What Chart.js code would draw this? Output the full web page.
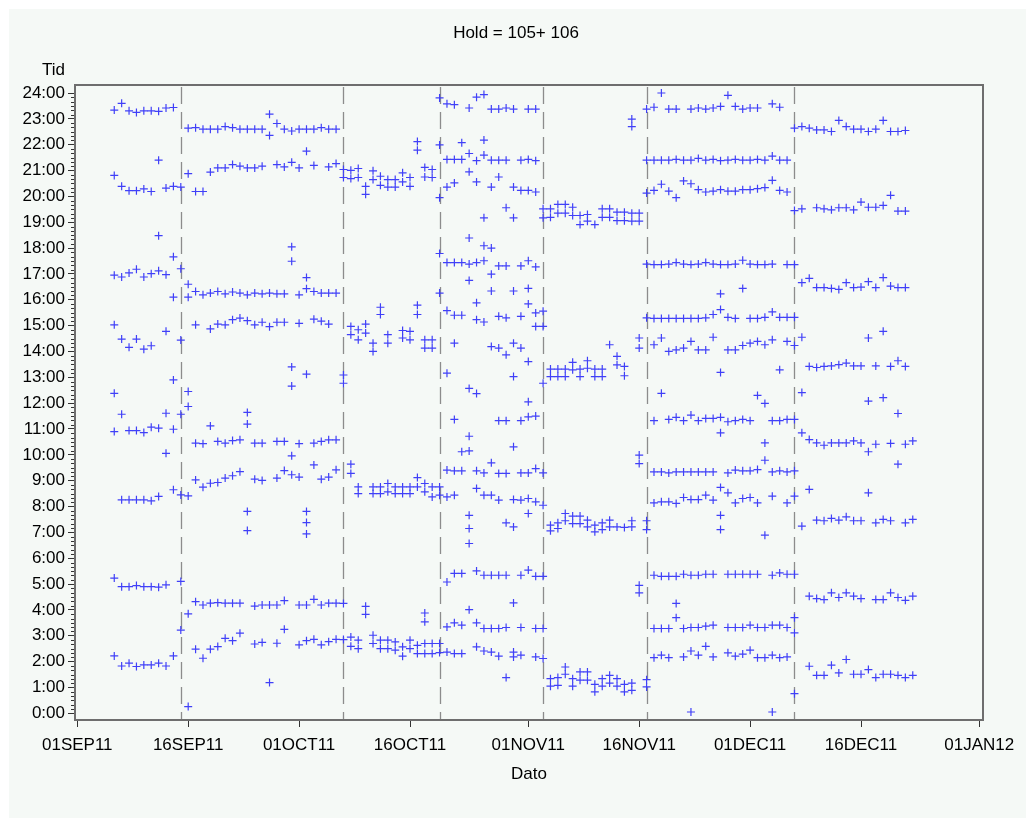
<!DOCTYPE html>
<html>
<head>
<meta charset="utf-8">
<script src="https://cdn.jsdelivr.net/npm/chart.js@4.4.1/dist/chart.umd.min.js"></script>
<style>
  html, body { margin: 0; padding: 0; background: #fff; }
</style>
</head>
<body>
<canvas id="chart" width="1026" height="818"></canvas>
<script>
// tick labels along the date axis
const xTickLabels = ["01SEP11", "16SEP11", "01OCT11", "16OCT11", "01NOV11", "16NOV11", "01DEC11", "16DEC11", "01JAN12"];
const hourTicks = [0, 1, 2, 3, 4, 5, 6, 7, 8, 9, 10, 11, 12, 13, 14, 15, 16, 17, 18, 19, 20, 21, 22, 23, 24];
// dashed reference lines
const refDates = ["15SEP11", "07OCT11", "20OCT11", "03NOV11", "17NOV11", "07DEC11"];

// first day of each block, one row of times (hours) per consecutive day
const periodStarts = ["06SEP11", "16SEP11", "07OCT11", "20OCT11", "03NOV11", "18NOV11", "07DEC11"];

const sep06 = [
  [23.34, 20.81, 16.95, 15.03, 12.38, 10.9, 5.23, 2.22],
  [23.6, 20.39, 16.88, 14.48, 11.57, 8.26, 4.9, 1.83],
  [23.31, 20.22, 17.04, 14.16, 10.94, 8.26, 4.9, 1.94],
  [23.25, 20.22, 17.18, 14.48, 10.94, 8.26, 4.94, 1.81],
  [23.31, 20.29, 16.88, 14.09, 10.86, 8.26, 4.9, 1.87],
  [23.31, 20.19, 17.01, 14.22, 11.07, 8.22, 4.9, 1.87],
  [23.29, 21.4, 18.48, 17.12, 11.03, 8.39, 4.88, 1.94],
  [23.42, 20.32, 16.97, 14.78, 11.61, 10.06, 4.97, 1.83],
  [23.44, 20.39, 17.66, 16.1, 12.9, 10.99, 8.65, 2.22],
  [20.36, 17.2, 14.44, 11.57, 8.45, 5.1, 3.22]
];

const sep16 = [
  [22.64, 20.88, 16.6, 16.1, 12.45, 11.87, 8.41, 3.85, 0.26],
  [22.66, 20.19, 16.32, 15.03, 10.45, 9.03, 4.32, 2.48],
  [22.6, 20.19, 16.19, 10.43, 8.75, 4.19, 2.13],
  [22.6, 20.94, 16.26, 14.87, 11.12, 8.9, 4.26, 2.48],
  [22.6, 21.1, 16.32, 15.06, 10.52, 8.93, 4.28, 2.58],
  [22.7, 21.1, 16.23, 15.03, 10.45, 9.1, 4.26, 2.9],
  [22.66, 21.23, 16.3, 15.23, 10.55, 9.19, 4.26, 2.81],
  [22.6, 21.17, 16.26, 15.29, 10.58, 9.35, 4.26, 3.1],
  [22.6, 21.1, 16.19, 15.19, 11.64, 11.19, 7.81, 7.07],
  [22.6, 21.1, 16.26, 15.03, 10.45, 9.06, 4.15, 2.68],
  [22.6, 21.17, 16.23, 15.13, 10.45, 9.01, 4.19, 2.74],
  [23.18, 22.36, 16.26, 14.96, 4.19, 1.19],
  [22.82, 21.23, 16.23, 15.13, 10.52, 9.1, 4.19, 2.71],
  [22.6, 21.14, 16.23, 15.13, 10.52, 9.39, 4.36, 3.25],
  [22.53, 21.32, 18.05, 17.49, 13.4, 12.66, 9.96, 9.23],
  [22.6, 21.1, 16.19, 15.09, 10.43, 9.14, 4.19, 2.65],
  [22.6, 21.75, 16.86, 16.43, 13.12, 7.81, 7.38, 6.94, 4.19, 2.81],
  [22.6, 21.2, 16.32, 15.25, 10.45, 9.61, 4.41, 2.86],
  [22.66, 16.26, 15.17, 10.52, 9.06, 4.19, 2.65],
  [22.6, 21.14, 16.26, 15.06, 10.58, 9.14, 4.26, 2.77],
  [22.6, 21.27, 16.26, 10.58, 9.42, 4.26, 2.86]
];

const oct07 = [
  [21.04, 20.73, 13.09, 12.77, 4.25, 2.85],
  [21.01, 20.69, 14.97, 14.65, 9.64, 9.28, 2.95, 2.59],
  [21.08, 20.73, 14.84, 14.45, 8.76, 8.5, 2.83, 2.5],
  [20.39, 20.08, 15.06, 14.71, 4.14, 3.83],
  [20.99, 20.65, 14.32, 14.0, 8.76, 8.5, 3.02, 2.7],
  [20.78, 20.43, 15.71, 15.43, 8.76, 8.5, 2.83, 2.5],
  [20.65, 20.36, 14.65, 14.32, 8.89, 8.57, 2.83, 2.5],
  [20.65, 20.36, 8.76, 8.5, 2.76, 2.44],
  [20.91, 20.56, 14.81, 14.52, 8.76, 8.5, 2.57, 2.21],
  [20.73, 20.39, 14.78, 14.45, 8.76, 8.5, 2.83, 2.5],
  [22.12, 21.79, 15.79, 15.43, 9.12, 8.76, 2.63, 2.31],
  [21.12, 20.75, 14.45, 14.13, 8.89, 8.57, 3.88, 3.54, 2.7, 2.31],
  [21.04, 20.73, 14.45, 14.13, 8.76, 8.37, 2.7, 2.31]
];

const oct20 = [
  [23.81, 21.99, 19.95, 17.79, 16.26, 8.76, 8.44, 2.7, 2.35],
  [23.58, 21.43, 20.36, 17.44, 15.58, 13.16, 9.41, 8.37, 5.08, 3.34, 2.37],
  [23.55, 21.43, 20.52, 17.44, 15.4, 14.32, 11.37, 9.38, 8.44, 5.41, 3.5, 2.31],
  [22.08, 21.43, 17.44, 15.4, 10.12, 9.38, 5.41, 3.41, 2.31],
  [23.42, 21.66, 20.95, 18.39, 17.38, 16.75, 12.57, 10.72, 10.15, 7.66, 7.15, 6.57, 4.01],
  [23.84, 21.38, 20.56, 17.44, 15.88, 15.23, 12.37, 9.38, 8.7, 5.51, 3.5, 2.57],
  [23.94, 22.18, 21.6, 19.17, 18.09, 17.51, 15.14, 9.3, 8.44, 5.34, 3.28, 2.41],
  [23.38, 21.4, 20.36, 18.0, 16.99, 16.34, 14.19, 9.69, 8.44, 5.34, 3.28, 2.37],
  [23.38, 21.4, 20.75, 17.31, 15.36, 14.13, 11.32, 9.28, 8.25, 5.34, 3.28, 2.21],
  [23.42, 21.4, 19.56, 17.31, 15.3, 13.87, 11.32, 9.28, 7.37, 5.34, 3.32, 1.38],
  [23.38, 20.36, 19.17, 16.34, 14.32, 13.03, 10.31, 8.27, 7.21, 4.27, 2.37, 2.18],
  [21.4, 20.23, 17.31, 15.36, 14.13, 11.32, 9.3, 8.25, 5.34, 3.32, 2.25],
  [23.38, 21.43, 20.23, 17.51, 16.44, 15.84, 13.61, 12.05, 11.47, 9.3, 8.31, 7.73, 5.54],
  [23.38, 21.38, 20.17, 17.27, 15.49, 14.97, 11.5, 9.47, 8.18, 5.3, 3.28, 2.18]
];

const nov03 = [
  [19.52, 19.17, 15.56, 14.97, 12.77, 9.3, 8.05, 5.3, 3.28, 2.12],
  [19.52, 19.19, 13.32, 13.03, 7.28, 7.06, 1.34, 1.05],
  [19.69, 19.35, 13.32, 13.03, 7.37, 7.15, 1.38, 1.08],
  [19.69, 19.35, 13.32, 13.03, 7.73, 7.45, 1.79, 1.51],
  [19.58, 19.26, 13.58, 13.29, 7.63, 7.34, 1.34, 1.05],
  [19.26, 18.91, 13.32, 13.03, 7.63, 7.34, 1.6, 1.28],
  [19.3, 19.04, 13.64, 13.35, 7.47, 7.21, 1.6, 1.28],
  [18.91, 13.32, 13.03, 7.28, 7.02, 1.12, 0.83],
  [19.52, 19.19, 13.32, 13.03, 7.37, 7.11, 1.34, 1.05],
  [19.52, 19.19, 14.26, 7.47, 7.21, 1.47, 1.17],
  [19.39, 19.06, 13.81, 13.48, 7.21, 1.34, 1.05],
  [19.39, 19.06, 13.42, 13.06, 7.19, 1.12, 0.83],
  [22.99, 22.7, 19.35, 19.04, 7.45, 7.21, 1.17, 0.89],
  [19.35, 19.04, 14.52, 14.13, 9.99, 9.66, 4.95, 4.66],
  [23.38, 21.4, 20.13, 17.38, 15.3, 7.45, 7.11, 1.3, 1.02]
];

const nov18 = [
  [23.45, 21.4, 20.23, 17.36, 15.28, 14.26, 11.32, 9.34, 8.14, 5.34, 3.28, 2.15],
  [24.0, 21.4, 20.47, 17.36, 15.28, 14.52, 12.38, 9.34, 8.18, 5.3, 3.28, 2.25],
  [23.38, 21.4, 20.2, 17.38, 15.28, 14.0, 11.37, 9.3, 8.18, 5.3, 3.28, 2.15],
  [23.38, 21.43, 19.95, 17.44, 15.28, 14.06, 11.45, 9.34, 8.12, 5.3, 4.25, 3.7],
  [21.4, 20.6, 17.38, 15.28, 14.13, 11.32, 9.34, 8.35, 5.38, 3.28, 2.18],
  [23.38, 21.4, 20.49, 17.36, 15.28, 14.39, 11.54, 9.34, 8.27, 5.34, 3.32, 2.41, 0.05],
  [23.42, 21.47, 20.26, 17.38, 15.28, 14.06, 11.32, 9.34, 8.27, 5.34, 3.32, 2.25],
  [23.38, 21.4, 20.17, 17.44, 15.3, 14.06, 11.41, 9.34, 8.44, 5.38, 3.37, 2.59],
  [23.42, 21.43, 20.2, 17.38, 15.43, 14.55, 11.41, 9.34, 8.25, 5.38, 3.41, 2.18],
  [23.48, 21.38, 20.26, 17.36, 16.23, 15.62, 13.19, 11.45, 10.85, 8.74, 7.66, 7.11],
  [23.91, 21.4, 20.2, 17.36, 15.32, 14.06, 11.28, 9.3, 8.53, 5.38, 3.32, 2.34],
  [23.48, 21.43, 20.2, 17.38, 15.28, 14.06, 11.32, 9.41, 8.14, 5.38, 3.32, 2.21],
  [23.38, 21.4, 20.26, 17.53, 16.44, 14.23, 11.37, 9.38, 8.31, 5.38, 3.32, 2.29],
  [23.42, 21.4, 20.26, 17.38, 15.28, 14.32, 11.32, 9.38, 8.35, 5.38, 3.41, 2.44],
  [23.42, 21.43, 20.3, 17.36, 15.28, 14.39, 12.3, 9.43, 8.14, 5.38, 3.32, 2.15],
  [21.4, 20.34, 17.36, 15.32, 14.26, 11.99, 10.46, 9.79, 6.89, 3.32, 2.15],
  [23.58, 21.56, 20.62, 17.38, 15.53, 14.45, 11.32, 9.34, 8.4, 5.34, 3.41, 2.25, 0.05],
  [23.45, 21.4, 20.23, 15.32, 13.29, 11.32, 9.38, 5.43, 3.41, 2.15],
  [21.4, 20.17, 17.36, 15.32, 14.39, 11.37, 9.34, 8.14, 5.38, 3.32, 2.18]
];

const dec07 = [
  [22.64, 19.45, 17.36, 15.32, 14.23, 11.37, 9.38, 8.4, 5.38, 3.7, 3.11, 0.76],
  [22.7, 19.52, 16.66, 14.55, 12.41, 10.85, 7.24],
  [22.64, 16.83, 13.42, 10.59, 8.66, 4.53, 1.82],
  [22.57, 19.56, 16.47, 13.38, 10.46, 7.47, 4.44, 1.47],
  [22.57, 19.52, 16.47, 13.42, 10.37, 7.45, 4.4, 1.47],
  [22.51, 19.48, 16.44, 13.44, 10.46, 7.54, 4.66, 1.86],
  [22.94, 19.56, 16.4, 13.49, 10.46, 7.47, 4.48, 1.56],
  [22.7, 19.56, 16.66, 13.55, 10.46, 7.6, 4.66, 2.08],
  [22.6, 19.48, 16.47, 13.44, 10.54, 7.45, 4.53, 1.51],
  [22.6, 19.78, 16.49, 13.44, 10.46, 7.45, 4.44, 1.51],
  [22.51, 19.58, 16.7, 14.52, 12.08, 10.12, 8.53, 1.69],
  [22.6, 19.58, 16.47, 13.44, 10.41, 7.37, 4.4, 1.38],
  [22.94, 19.65, 16.86, 14.78, 12.21, 7.5, 4.4, 1.51],
  [22.51, 20.04, 16.53, 13.42, 10.44, 7.45, 4.66, 1.51],
  [22.51, 19.43, 16.47, 13.64, 11.6, 9.64, 4.48, 1.47],
  [22.55, 19.43, 16.47, 13.42, 10.41, 7.37, 4.37, 1.38],
  [10.54, 7.5, 4.53, 1.47]
];

const periods = [sep06, sep16, oct07, oct20, nov03, nov18, dec07];

const MONTHS = ["JAN", "FEB", "MAR", "APR", "MAY", "JUN", "JUL", "AUG", "SEP", "OCT", "NOV", "DEC"];
const ORIGIN = Date.UTC(2011, 8, 1);

// "06SEP11" -> days since 01SEP11
function dayOf(label) {
  const d = parseInt(label.slice(0, 2), 10);
  const m = MONTHS.indexOf(label.slice(2, 5));
  const y = 2000 + parseInt(label.slice(5), 10);
  return Math.round((Date.UTC(y, m, d) - ORIGIN) / 864e5);
}

const points = [];
periods.forEach((rows, i) => {
  const first = dayOf(periodStarts[i]);
  rows.forEach((times, j) => {
    times.forEach(t => points.push({ x: first + j, y: t }));
  });
});

const xTickDays = xTickLabels.map(dayOf);
const FONT = "'Liberation Sans', Arial, sans-serif";

const decorations = {
  id: "decorations",
  beforeDraw(chart) {
    const ctx = chart.ctx;
    ctx.save();
    ctx.fillStyle = "#ffffff";
    ctx.fillRect(0, 0, chart.width, chart.height);
    ctx.fillStyle = "#f5f9f6";
    ctx.fillRect(9, 9, chart.width - 9, chart.height - 9);
    ctx.restore();
  },
  beforeDatasetsDraw(chart) {
    const { ctx, chartArea: a, scales } = chart;
    ctx.save();
    ctx.strokeStyle = "#8c8c8c";
    ctx.lineWidth = 1.3;
    ctx.setLineDash([17, 8]);
    refDates.forEach(lbl => {
      const x = Math.round(scales.x.getPixelForValue(dayOf(lbl))) + 0.5;
      ctx.beginPath();
      ctx.moveTo(x, a.top + 2);
      ctx.lineTo(x, a.bottom);
      ctx.stroke();
    });
    ctx.restore();
  },
  afterDraw(chart) {
    const { ctx, chartArea: a, scales } = chart;
    ctx.save();
    // minor ticks on the time axis, every 10 minutes
    ctx.strokeStyle = "#333";
    ctx.lineWidth = 1;
    for (let m = 0; m <= 24 * 60; m += 10) {
      if (m % 60 === 0) continue;
      const y = Math.round(scales.y.getPixelForValue(m / 60)) + 0.5;
      ctx.beginPath();
      ctx.moveTo(a.left - 4, y);
      ctx.lineTo(a.left, y);
      ctx.stroke();
    }
    // frame
    ctx.strokeStyle = "#6e6e6e";
    ctx.lineWidth = 2;
    ctx.strokeRect(a.left, a.top, a.right - a.left, a.bottom - a.top);
    // titles
    ctx.fillStyle = "#000";
    ctx.font = "17px " + FONT;
    ctx.textAlign = "center";
    ctx.textBaseline = "middle";
    ctx.fillText("Hold = 105+ 106", 516, 33);
    ctx.textAlign = "right";
    ctx.fillText("Tid", 65, 70);
    ctx.restore();
  }
};

new Chart(document.getElementById("chart"), {
  type: "scatter",
  data: {
    datasets: [{
      data: points,
      pointStyle: "cross",
      pointRadius: 4,
      pointHoverRadius: 4,
      pointBorderWidth: 1.2,
      borderColor: "#4040f8",
      backgroundColor: "#4040f8"
    }]
  },
  options: {
    responsive: false,
    animation: false,
    devicePixelRatio: 1,
    layout: { padding: { top: 85, right: 43, left: 0, bottom: 0 } },
    plugins: {
      legend: { display: false },
      tooltip: { enabled: false }
    },
    scales: {
      x: {
        type: "linear",
        min: -0.31,
        max: 122.5,
        afterBuildTicks: s => { s.ticks = xTickDays.map(v => ({ value: v })); },
        afterFit: s => { s.height = 98; },
        ticks: {
          autoSkip: false,
          maxRotation: 0,
          padding: 8,
          color: "#000",
          font: { family: FONT, size: 17 },
          callback: v => xTickLabels[xTickDays.indexOf(v)]
        },
        grid: { drawOnChartArea: false, tickLength: 7, color: "#333" },
        border: { display: false },
        title: {
          display: true,
          text: "Dato",
          color: "#000",
          font: { family: FONT, size: 17 },
          padding: { top: 4, bottom: 33 }
        }
      },
      y: {
        min: -0.26,
        max: 24.31,
        afterBuildTicks: s => { s.ticks = hourTicks.map(v => ({ value: v })); },
        afterFit: s => { s.width = 75; },
        ticks: {
          padding: 3,
          color: "#000",
          font: { family: FONT, size: 17 },
          callback: v => v + ":00"
        },
        grid: { drawOnChartArea: false, tickLength: 7, color: "#333" },
        border: { display: false }
      }
    }
  },
  plugins: [decorations]
});
</script>
</body>
</html>
